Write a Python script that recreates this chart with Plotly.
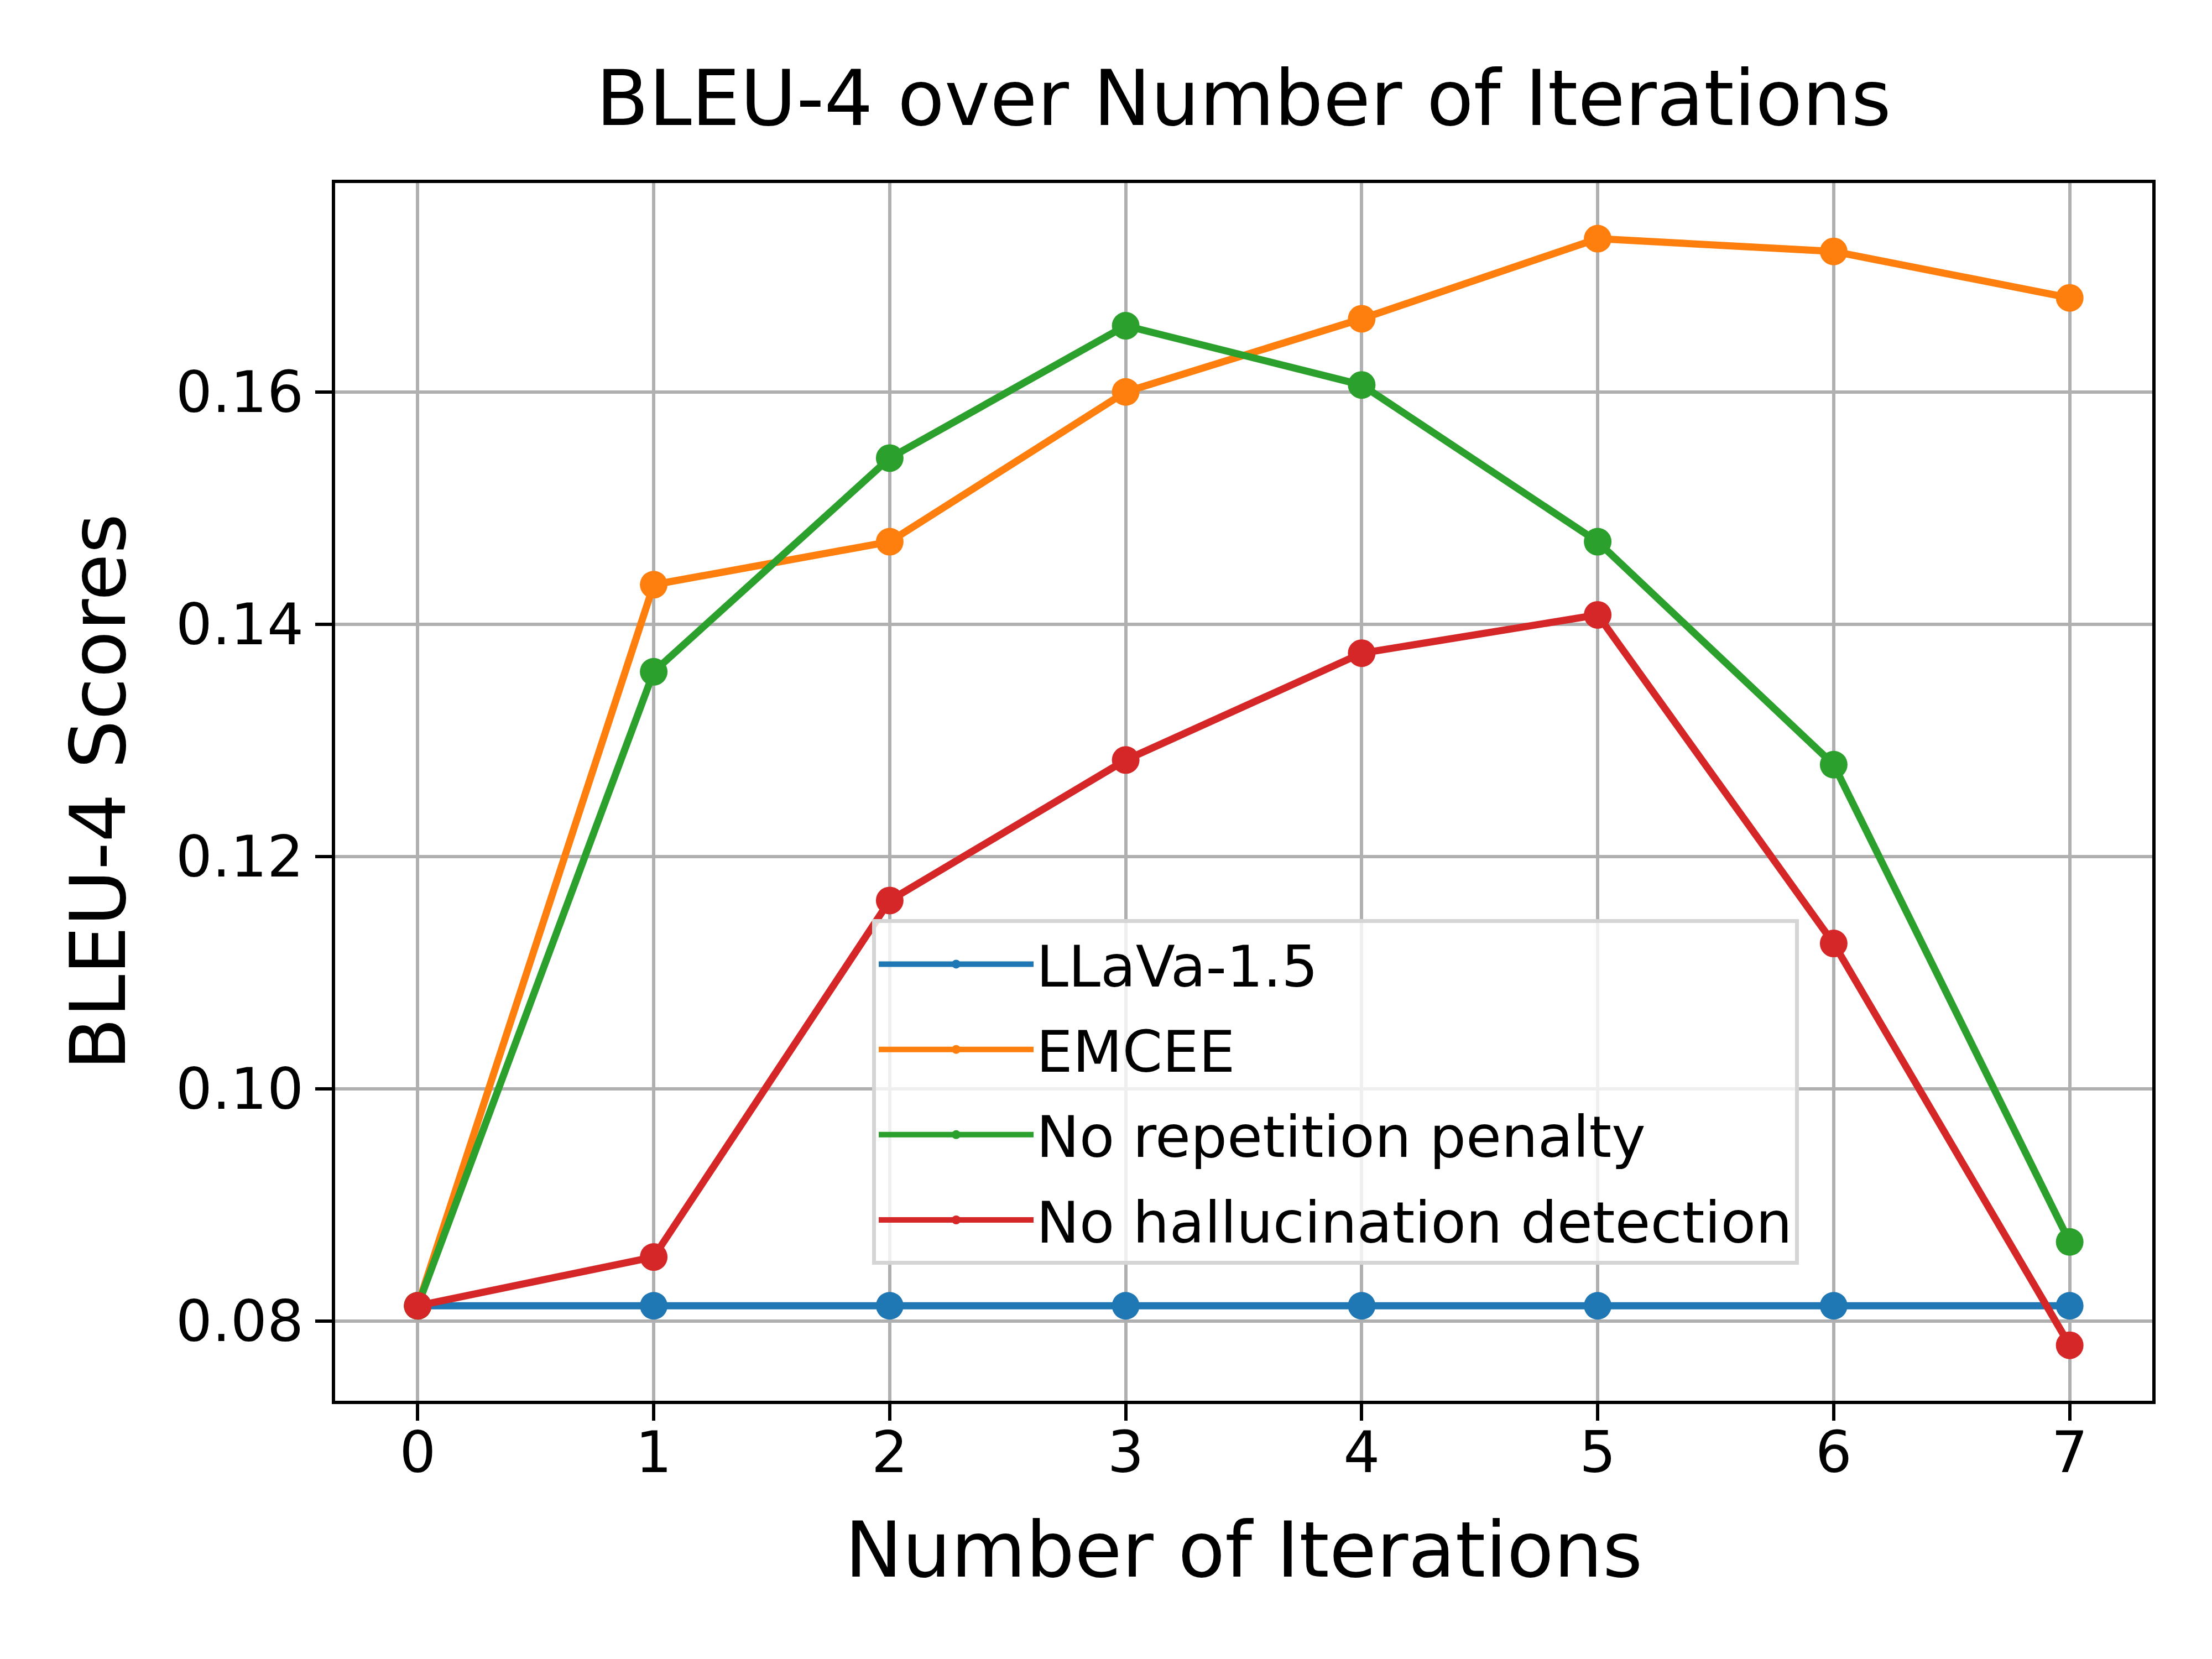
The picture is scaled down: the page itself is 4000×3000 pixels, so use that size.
import plotly.graph_objects as go

iterations = [0, 1, 2, 3, 4, 5, 6, 7]
llava = [0.0813, 0.0813, 0.0813, 0.0813, 0.0813, 0.0813, 0.0813, 0.0813]
emcee = [0.0813, 0.1434, 0.1471, 0.1600, 0.1663, 0.1732, 0.1721, 0.1681]
no_rep = [0.0813, 0.1359, 0.1543, 0.1657, 0.1606, 0.1471, 0.1279, 0.0868]
no_hal = [0.0813, 0.0855, 0.1162, 0.1283, 0.1375, 0.1408, 0.1125, 0.0779]

series_names = ["LLaVa-1.5", "EMCEE", "No repetition penalty", "No hallucination detection"]
series_values = [llava, emcee, no_rep, no_hal]
colors = ["#1f77b4", "#ff7f0e", "#2ca02c", "#d62728"]

y_ticks = [0.08, 0.10, 0.12, 0.14, 0.16]
x_ticks = [0, 1, 2, 3, 4, 5, 6, 7]

FONT = "DejaVu Sans"
fig = go.Figure()
for i, (name, vals, c) in enumerate(zip(series_names, series_values, colors)):
    fig.add_trace(go.Scatter(
        x=iterations, y=vals, name=name, mode="lines+markers",
        line=dict(color=c, width=13),
        marker=dict(color=c, size=50, line=dict(width=0)),
        legendgroup=f"g{i}",
    ))

axis_common = dict(
    showline=True, mirror=True, linecolor="black", linewidth=6,
    showgrid=True, gridcolor="#b0b0b0", gridwidth=6,
    ticks="outside", ticklen=30, tickwidth=6, tickcolor="black",
    tickfont=dict(family=FONT, size=104, color="black"),
    zeroline=False,
)

fig.update_layout(
    width=4000, height=3000,
    paper_bgcolor="white", plot_bgcolor="white",
    margin=dict(l=598, r=116, t=323, b=475, autoexpand=False),
    title=dict(text="BLEU-4 over Number of Iterations", x=0.5602, xanchor="center",
               y=1 - 218 / 3000, yanchor="bottom", yref="container",
               font=dict(family=FONT, size=139, color="black")),
    xaxis=dict(range=[-0.35, 7.35], tickvals=x_ticks, ticktext=[str(v) for v in x_ticks],
               ticklabelstandoff=-32,
               title=dict(text="Number of Iterations", font=dict(family=FONT, size=139, color="black"),
                          standoff=70),
               **axis_common),
    yaxis=dict(range=[0.07312, 0.17799], tickvals=y_ticks, ticktext=[f"{v:.2f}" for v in y_ticks],
               title=dict(text="BLEU-4 Scores", font=dict(family=FONT, size=139, color="black"),
                          standoff=46),
               **axis_common),
    legend=dict(x=0.2955, y=0.3954, xanchor="left", yanchor="top",
                bgcolor="rgba(255,255,255,0.8)", bordercolor="#d5d5d5", borderwidth=7,
                font=dict(family=FONT, size=104, color="black"),
                tracegroupgap=16, itemwidth=280, traceorder="grouped"),
    showlegend=True,
)

fig.write_html("out.html")
